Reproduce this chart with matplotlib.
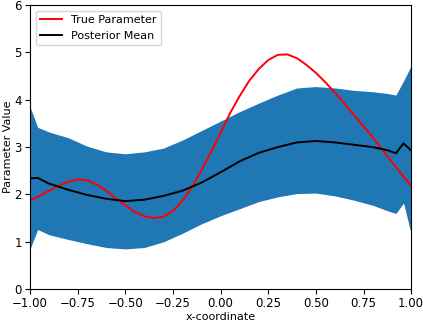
import matplotlib
matplotlib.use("Agg")
import matplotlib.pyplot as plt
import numpy as np

# posterior estimate
x_post = [-1.0, -0.96, -0.9, -0.8, -0.7, -0.6, -0.5, -0.4, -0.3, -0.2, -0.1,
          0.0, 0.1, 0.2, 0.3, 0.4, 0.5, 0.6, 0.7, 0.8, 0.88, 0.92, 0.96, 1.0]
post_mean = [2.34, 2.35, 2.23, 2.1, 1.99, 1.91, 1.86, 1.89, 1.97, 2.08, 2.25,
             2.47, 2.7, 2.88, 3.0, 3.1, 3.13, 3.1, 3.05, 3.0, 2.93, 2.87, 3.08, 2.93]
post_upper = [3.85, 3.42, 3.32, 3.2, 3.02, 2.9, 2.86, 2.9, 2.98, 3.15, 3.35,
              3.55, 3.75, 3.93, 4.1, 4.25, 4.28, 4.25, 4.2, 4.17, 4.13, 4.1, 4.4, 4.72]
post_lower = [0.85, 1.26, 1.15, 1.05, 0.96, 0.88, 0.85, 0.88, 1.0, 1.18, 1.38,
              1.55, 1.7, 1.85, 1.95, 2.02, 2.03, 1.97, 1.88, 1.77, 1.65, 1.6, 1.82, 1.17]

# true parameter curve
x_true = [-1.0, -0.95, -0.9, -0.85, -0.8, -0.75, -0.7, -0.65, -0.6, -0.55,
          -0.5, -0.45, -0.4, -0.35, -0.3, -0.25, -0.2, -0.15, -0.1, -0.05,
          0.0, 0.05, 0.1, 0.15, 0.2, 0.25, 0.3, 0.35, 0.4, 0.45,
          0.5, 0.55, 0.6, 0.65, 0.7, 0.75, 0.8, 0.85, 0.9, 0.95, 1.0]
true_val = [1.87, 1.97, 2.08, 2.18, 2.27, 2.32, 2.3, 2.21, 2.08, 1.92,
            1.77, 1.63, 1.54, 1.5, 1.53, 1.65, 1.87, 2.15, 2.52, 2.9,
            3.3, 3.72, 4.08, 4.4, 4.65, 4.84, 4.95, 4.96, 4.88, 4.74,
            4.57, 4.37, 4.15, 3.92, 3.68, 3.44, 3.2, 2.94, 2.68, 2.43, 2.18]

fig = plt.figure(figsize=(4.23, 3.22), dpi=100)
ax = fig.add_axes([0.071, 0.102, 0.901, 0.882])

ax.fill_between(x_post, post_lower, post_upper, color='#1f77b4', linewidth=0)
ax.plot(x_true, true_val, color='red', linewidth=1.4, label='True Parameter')
ax.plot(x_post, post_mean, color='black', linewidth=1.4, label='Posterior Mean')

ax.set_xlim(-1, 1)
ax.set_ylim(0, 6)
ax.set_xlabel('x-coordinate', fontsize=8, labelpad=1)
ax.set_ylabel('Parameter Value', fontsize=8, labelpad=1)
ax.tick_params(labelsize=8.5, pad=2.5)
ax.legend(loc='upper left', fontsize=8)

fig.savefig('out.png', dpi=100)
